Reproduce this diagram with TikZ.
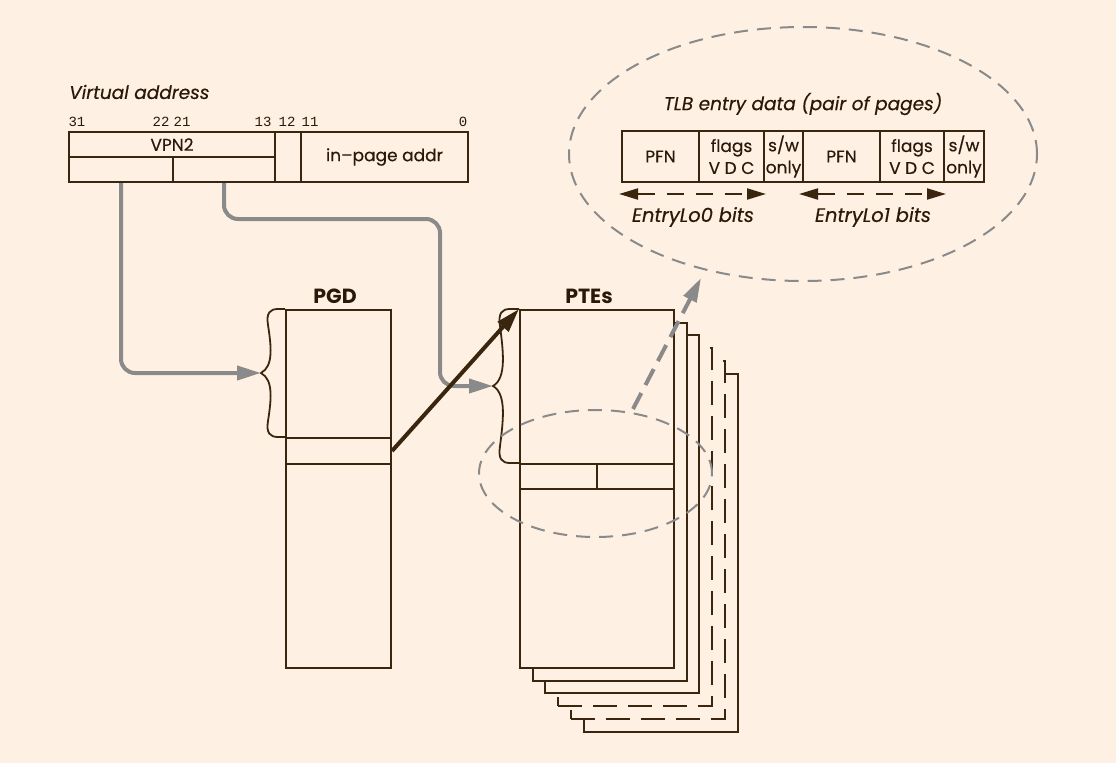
\documentclass[tikz,border=0pt]{standalone}
\usepackage{fontspec}
\setmainfont{Poppins}[UprightFeatures={FakeBold=0.4}, ItalicFeatures={FakeBold=0.4}]
\newfontfamily\monof{Liberation Mono}
\usetikzlibrary{arrows.meta,shapes.geometric}
\definecolor{bg}{HTML}{FEF1E3}
\definecolor{lc}{HTML}{3A250F}
\definecolor{tc}{HTML}{2A190A}
\definecolor{gr}{HTML}{8A8A8A}
\begin{document}
\begin{tikzpicture}[x=1pt,y=-1pt,
  cell/.style={draw=lc, line width=2pt, inner sep=0pt, anchor=north west, text=tc, font=\fontsize{17}{20}\selectfont},
  tcell/.style={cell, minimum height=51pt, align=center, font=\fontsize{17}{22}\selectfont},
  page/.style={draw=lc, fill=bg, line width=2pt, inner sep=0pt, anchor=north west, minimum width=154pt, minimum height=358pt},
  dashpage/.style={page, dash pattern=on 24pt off 11pt},
  bitlbl/.style={text=tc, inner sep=0pt, font=\monof\fontsize{14}{15}\selectfont},
  ital/.style={text=tc, inner sep=0pt, font=\itshape\fontsize{18.5}{22}\selectfont},
  boldlbl/.style={text=tc, inner sep=0pt, font=\bfseries\fontsize{20.5}{22}\selectfont},
  bracepath/.style={draw=lc, line width=1.8pt},
  garrow/.style={draw=gr, line width=4pt, rounded corners=14pt, -{Triangle[length=24pt,width=14pt]}},
  barrow/.style={draw=lc, line width=4pt, -{Triangle[length=24pt,width=14pt]}},
  gdarrow/.style={draw=gr, line width=4pt, dash pattern=on 18pt off 9pt, -{Triangle[length=24pt,width=14pt]}},
  tlbarrow/.style={draw=lc, line width=2pt, dash pattern=on 17pt off 12pt, {Triangle[length=19pt,width=11pt]}-{Triangle[length=19pt,width=11pt]}},
  zoomell/.style={draw=gr, line width=2pt, dash pattern=on 14pt off 9pt, ellipse, inner sep=0pt}
]
\fill[bg] (0,0) rectangle (1116,763);
\useasboundingbox (0,0) rectangle (1116,763);

% ---------- Virtual address ----------
\node[ital, anchor=west] (vatitle) at (69,92) {Virtual address};
\node[bitlbl] (b31) at (77,121.5) {31};
\node[bitlbl] (b22) at (161,121.5) {22};
\node[bitlbl] (b21) at (182,121.5) {21};
\node[bitlbl] (b13) at (263,121.5) {13};
\node[bitlbl] (b12) at (287,121.5) {12};
\node[bitlbl] (b11) at (310,121.5) {11};
\node[bitlbl] (b0) at (463,121.5) {0};

\node[cell, minimum width=206pt, minimum height=25pt] (vpn) at (68,131) {VPN2};
\node[cell, minimum width=104pt, minimum height=25pt] (loL) at (68,156) {};
\node[cell, minimum width=102pt, minimum height=25pt] (loR) at (172,156) {};
\node[cell, minimum width=26pt, minimum height=50pt] (b12c) at (274,131) {};
\node[cell, minimum width=167pt, minimum height=50pt] (inpage) at (300,131) {in–page addr};

% ---------- PTE page stack ----------
\node[page] (pte5) at ({519+12.7*5},{309+12.7*5}) {};
\node[dashpage] (pte4) at ({519+12.7*4},{309+12.7*4}) {};
\node[dashpage] (pte3) at ({519+12.7*3},{309+12.7*3}) {};
\node[page] (pte2) at ({519+12.7*2},{309+12.7*2}) {};
\node[page] (pte1) at ({519+12.7*1},{309+12.7*1}) {};
\node[page] (pte0) at (519,309) {};
\node[cell, minimum width=77pt, minimum height=25pt] (pteL) at (519,463) {};
\node[cell, minimum width=77pt, minimum height=25pt] (pteR) at (596,463) {};
\node[boldlbl] (ptelbl) at (589,296) {PTEs};

% ---------- PGD ----------
\node[page, minimum width=105pt] (pgd) at (285,309) {};
\node[cell, minimum width=105pt, minimum height=26pt] (pgdent) at (285,437) {};
\node[boldlbl] (pgdlbl) at (335,296) {PGD};

% ---------- braces ----------
\coordinate (pgdtip) at (261,373);
\coordinate (ptetip) at (493,386);
\draw[bracepath] (pgd.north west) -- (278,309) .. controls (270,309) and (266,313) .. (268,325)
   .. controls (271,345) and (274,366) .. (pgdtip)
   .. controls (274,380) and (271,401) .. (268,421)
   .. controls (266,433) and (270,437) .. (278,437) -- (pgdent.north west);
\draw[bracepath] (pte0.north west) -- (510,309) .. controls (502,309) and (498,313) .. (500,326)
   .. controls (503,350) and (507,378) .. (ptetip)
   .. controls (507,394) and (503,422) .. (500,446)
   .. controls (498,459) and (502,463) .. (510,463) -- (pteL.north west);

% ---------- gray index arrows ----------
\coordinate (bend) at (440,219);
\draw[garrow] (loL.south) |- (pgdtip);
\draw[garrow] (loR.south) |- (bend) |- (ptetip);

% ---------- black pointer arrow ----------
\draw[barrow] (pgdent.east) -- (pte0.north west);

% ---------- zoom ellipses ----------
\node[zoomell, minimum width=233pt, minimum height=127pt] (zsmall) at (595.5,473.5) {};
\node[zoomell, minimum width=468pt, minimum height=254pt] (zbig) at (803,154) {};
\coordinate (dstart) at (633,409);
\coordinate (dend) at (701,278);
\draw[gdarrow] (dstart) -- (dend);

% ---------- TLB entry ----------
\node[ital] (tlbtitle) at (803,104) {TLB entry data (pair of pages)};
\node[tcell, minimum width=77pt] (pfn0) at (621,130) {PFN};
\node[tcell, minimum width=65pt] (flg0) at (698,130) {flags\\V D C};
\node[tcell, minimum width=39pt] (sw0) at (763,130) {s/w\\only};
\node[tcell, minimum width=77pt] (pfn1) at (802,130) {PFN};
\node[tcell, minimum width=64pt] (flg1) at (879,130) {flags\\V D C};
\node[tcell, minimum width=40pt] (sw1) at (943,130) {s/w\\only};
\coordinate (e0l) at (619,194);
\coordinate (e0r) at (766,194);
\coordinate (e1l) at (799,194);
\coordinate (e1r) at (946,194);
\draw[tlbarrow] (e0l) -- (e0r);
\draw[tlbarrow] (e1l) -- (e1r);
\node[ital, font=\itshape\fontsize{19.5}{22}\selectfont] (lo0) at (693,217) {EntryLo0 bits};
\node[ital, font=\itshape\fontsize{19.5}{22}\selectfont] (lo1) at (873,217) {EntryLo1 bits};
\end{tikzpicture}
\end{document}
